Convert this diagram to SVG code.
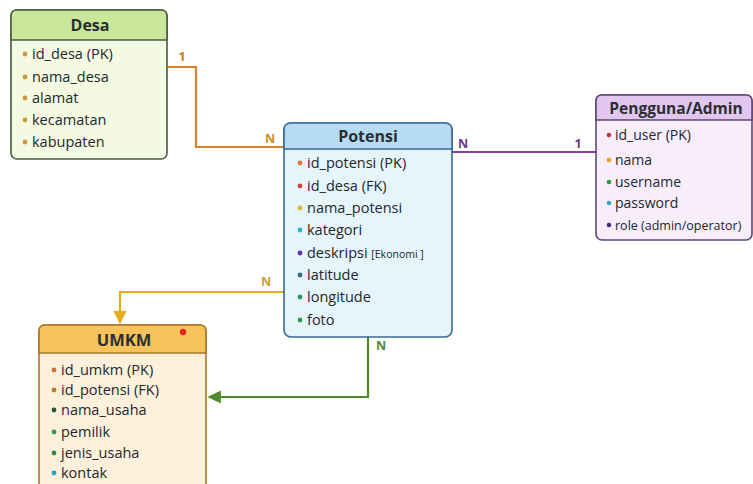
<svg xmlns="http://www.w3.org/2000/svg" width="753" height="484" viewBox="0 0 753 484">
  <defs>
    <style>
      .title { font-family: "Open Sans", "Liberation Sans", sans-serif; font-weight: 700; font-size: 16px; fill: #2a2f33; text-anchor: middle; }
      .attr { font-family: "Open Sans", "Liberation Sans", sans-serif; font-size: 14.5px; fill: #22282c; }
      .user { font-size: 14px; }
      .small { font-size: 10.5px; }
      .card { font-family: "Open Sans", "Liberation Sans", sans-serif; font-weight: 700; font-size: 12.5px; }
      .link { fill: none; stroke-width: 2.2; stroke-linejoin: miter; }
    </style>
    <marker id="arrowYellow" viewBox="0 0 10 10" refX="9" refY="5" markerWidth="6" markerHeight="6" orient="auto" markerUnits="strokeWidth">
      <path d="M0,0 L10,5 L0,10 z" fill="#e8aa1e"/>
    </marker>
    <marker id="arrowGreen" viewBox="0 0 10 10" refX="9" refY="5" markerWidth="6" markerHeight="6" orient="auto" markerUnits="strokeWidth">
      <path d="M0,0 L10,5 L0,10 z" fill="#4f8a2a"/>
    </marker>
  </defs>

  <rect width="753" height="484" fill="#ffffff"/>

  <!-- connectors -->
  <g id="connectors">
    <polyline class="link" stroke="#d9822b" points="167,67 196,67 196,147 284,147"/>
    <polyline class="link" stroke="#8a3fa0" points="452,152 596,152"/>
    <polyline class="link" stroke="#e8aa1e" points="284,292 120,292 120,323" marker-end="url(#arrowYellow)"/>
    <polyline class="link" stroke="#4f8a2a" points="368,337 368,397 209,397" marker-end="url(#arrowGreen)"/>
    <text class="card" x="182" y="61" fill="#c8752a" text-anchor="middle">1</text>
    <text class="card" x="270" y="143" fill="#c8902a" text-anchor="middle">N</text>
    <text class="card" x="463" y="148" fill="#6a3a8a" text-anchor="middle">N</text>
    <text class="card" x="578" y="148" fill="#6a3a8a" text-anchor="middle">1</text>
    <text class="card" x="266" y="286" fill="#c8a02a" text-anchor="middle">N</text>
    <text class="card" x="381" y="350" fill="#4f8a2a" text-anchor="middle">N</text>
  </g>

  <!-- Desa -->
  <g id="desa">
    <rect x="11" y="10" width="156" height="149" rx="6" fill="#f4f9e2" stroke="#4b5a40" stroke-width="1.6"/>
    <path d="M11,40 L11,16 Q11,10 17,10 L161,10 Q167,10 167,16 L167,40 Z" fill="#c9e79a" stroke="#4b5a40" stroke-width="1.6"/>
    <text class="title" x="90" y="31">Desa</text>
    <g fill="#c89a40">
      <circle cx="25" cy="54" r="2.4"/><circle cx="25" cy="77" r="2.4"/><circle cx="25" cy="98" r="2.4"/><circle cx="25" cy="120" r="2.4"/><circle cx="25" cy="142" r="2.4"/>
    </g>
    <text class="attr" x="32" y="59">id_desa (PK)</text>
    <text class="attr" x="32" y="82">nama_desa</text>
    <text class="attr" x="32" y="103">alamat</text>
    <text class="attr" x="32" y="125">kecamatan</text>
    <text class="attr" x="32" y="147">kabupaten</text>
  </g>

  <!-- Potensi -->
  <g id="potensi">
    <rect x="284" y="123" width="168" height="214" rx="7" fill="#e6f4fc" stroke="#3a6a96" stroke-width="1.6"/>
    <path d="M284,149 L284,130 Q284,123 291,123 L445,123 Q452,123 452,130 L452,149 Z" fill="#b5dcf4" stroke="#3a6a96" stroke-width="1.6"/>
    <text class="title" x="368" y="142">Potensi</text>
    <circle cx="300" cy="163" r="2.4" fill="#e0743a"/>
    <circle cx="300" cy="186" r="2.4" fill="#d0443a"/>
    <circle cx="300" cy="208" r="2.4" fill="#e2b428"/>
    <circle cx="300" cy="230" r="2.4" fill="#2ab8cc"/>
    <circle cx="300" cy="253" r="2.4" fill="#6a2ab0"/>
    <circle cx="300" cy="275" r="2.4" fill="#2a7088"/>
    <circle cx="300" cy="297" r="2.4" fill="#2a9a5a"/>
    <circle cx="300" cy="320" r="2.4" fill="#2aa040"/>
    <text class="attr" x="307" y="168">id_potensi (PK)</text>
    <text class="attr" x="307" y="191">id_desa (FK)</text>
    <text class="attr" x="307" y="213">nama_potensi</text>
    <text class="attr" x="307" y="235">kategori</text>
    <text class="attr" x="307" y="258">deskripsi <tspan class="small">[Ekonomi ]</tspan></text>
    <text class="attr" x="307" y="280">latitude</text>
    <text class="attr" x="307" y="302">longitude</text>
    <text class="attr" x="307" y="325">foto</text>
  </g>

  <!-- Pengguna/Admin -->
  <g id="pengguna">
    <rect x="596" y="95" width="156" height="145" rx="6" fill="#f7edfb" stroke="#5e4670" stroke-width="1.6"/>
    <path d="M596,120 L596,101 Q596,95 602,95 L746,95 Q752,95 752,101 L752,120 Z" fill="#e1c6ef" stroke="#5e4670" stroke-width="1.6"/>
    <text class="title" x="676" y="114" style="font-size:15.5px">Pengguna/Admin</text>
    <circle cx="609" cy="135" r="2.3" fill="#d0303a"/>
    <circle cx="609" cy="160" r="2.3" fill="#e2a428"/>
    <circle cx="609" cy="182" r="2.3" fill="#2a9a3a"/>
    <circle cx="609" cy="203" r="2.3" fill="#2aa8c8"/>
    <circle cx="609" cy="225" r="2.3" fill="#4a2a80"/>
    <text class="attr user" x="615" y="140">id_user (PK)</text>
    <text class="attr user" x="615" y="165">nama</text>
    <text class="attr user" x="615" y="187">username</text>
    <text class="attr user" x="615" y="208">password</text>
    <text class="attr" x="615" y="230" style="font-size:12.5px">role (admin/operator)</text>
  </g>

  <!-- UMKM -->
  <g id="umkm">
    <rect x="39" y="325" width="167" height="170" rx="6" fill="#fdf1dc" stroke="#a8772e" stroke-width="1.6"/>
    <path d="M39,353 L39,331 Q39,325 45,325 L200,325 Q206,325 206,331 L206,353 Z" fill="#f7c35a" stroke="#a8772e" stroke-width="1.6"/>
    <text class="title" x="124" y="346" style="font-size:16.5px">UMKM</text>
    <circle cx="183" cy="332" r="3.2" fill="#e8202a"/>
    <circle cx="54" cy="370" r="2.4" fill="#d86a3a"/>
    <circle cx="54" cy="390" r="2.4" fill="#c8742a"/>
    <circle cx="54" cy="410" r="2.4" fill="#2a5a3a"/>
    <circle cx="54" cy="432" r="2.4" fill="#2aa048"/>
    <circle cx="54" cy="453" r="2.4" fill="#3a8a3a"/>
    <circle cx="54" cy="473" r="2.4" fill="#2aa0c0"/>
    <text class="attr" x="61" y="375">id_umkm (PK)</text>
    <text class="attr" x="61" y="395">id_potensi (FK)</text>
    <text class="attr" x="61" y="415">nama_usaha</text>
    <text class="attr" x="61" y="437">pemilik</text>
    <text class="attr" x="61" y="458">jenis_usaha</text>
    <text class="attr" x="61" y="478">kontak</text>
  </g>
</svg>
